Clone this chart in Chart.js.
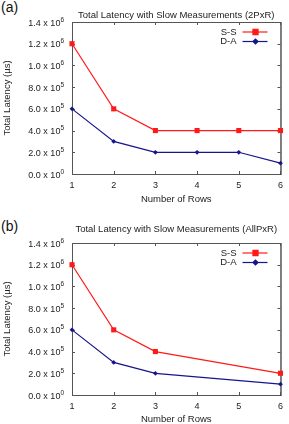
<!DOCTYPE html>
<html>
<head>
<meta charset="utf-8">
<script src="https://cdn.jsdelivr.net/npm/chart.js@4"></script>
<style>
  html, body { margin: 0; padding: 0; background: #fff; }
  body { width: 289px; height: 424px; position: relative; overflow: hidden; font-family: "Liberation Sans", Arial, sans-serif; }
  .panel { position: absolute; left: 0; width: 289px; }
  .tag { position: absolute; left: 1px; font-size: 14px; color: #111; }
</style>
</head>
<body>
<div class="tag" style="top:-1px">(a)</div>
<div class="tag" style="top:218px">(b)</div>
<div class="panel" style="top:0;height:212px"><canvas id="chartA" width="289" height="212"></canvas></div>
<div class="panel" style="top:212px;height:224px"><canvas id="chartB" width="289" height="224"></canvas></div>
<script>
// data
const rowsA = [1, 2, 3, 4, 5, 6];
const ssA = [1.2e6, 0.6e6, 0.4e6, 0.4e6, 0.4e6, 0.4e6];
const daA = [0.6e6, 0.3e6, 0.2e6, 0.2e6, 0.2e6, 0.1e6];

const rowsB = [1, 2, 3, 6];
const ssB = [1.2e6, 0.6e6, 0.4e6, 0.2e6];
const daB = [0.6e6, 0.3e6, 0.2e6, 0.1e6];

const xTicks = [1, 2, 3, 4, 5, 6];
const yTicks = [0, 2e5, 4e5, 6e5, 8e5, 1e6, 1.2e6, 1.4e6];
const seriesNames = ['S-S', 'D-A'];

const FONT = '"Liberation Sans", Arial, sans-serif';
const RED = '#ff1a1a';
const BLUE = '#16168c';
const FRAME = '#555';

function sci(v) {
  if (v === 0) return ['0.0', '0'];
  const e = Math.floor(Math.log10(v) + 1e-9);
  return [(v / Math.pow(10, e)).toFixed(1), String(e)];
}

// frame, inward ticks and y labels with superscript exponents
const framePlugin = {
  id: 'frame',
  beforeDatasetsDraw(chart) {
    const { ctx, chartArea: a, scales } = chart;
    ctx.save();
    ctx.lineWidth = 1;
    ctx.strokeStyle = FRAME;
    ctx.beginPath();
    ctx.moveTo(a.right + 0.5, a.top + 0.5);
    ctx.lineTo(a.left + 0.5, a.top + 0.5);
    ctx.lineTo(a.left + 0.5, a.bottom + 0.5);
    ctx.lineTo(a.right + 0.5, a.bottom + 0.5);
    ctx.stroke();
    ctx.strokeStyle = '#000';
    ctx.beginPath();
    ctx.moveTo(a.right + 0.5, a.top);
    ctx.lineTo(a.right + 0.5, a.bottom + 1);
    ctx.stroke();

    ctx.strokeStyle = FRAME;
    ctx.beginPath();
    xTicks.forEach(t => {
      const x = Math.round(scales.x.getPixelForValue(t)) + 0.5;
      ctx.moveTo(x, a.bottom); ctx.lineTo(x, a.bottom - 3);
      ctx.moveTo(x, a.top); ctx.lineTo(x, a.top + 3);
    });
    yTicks.forEach(t => {
      const y = Math.round(scales.y.getPixelForValue(t)) + 0.5;
      ctx.moveTo(a.left, y); ctx.lineTo(a.left + 3, y);
      ctx.moveTo(a.right, y); ctx.lineTo(a.right - 3, y);
    });
    ctx.stroke();

    ctx.fillStyle = '#222';
    ctx.textBaseline = 'alphabetic';
    yTicks.forEach(t => {
      const y = scales.y.getPixelForValue(t);
      const [m, e] = sci(t);
      const rightX = a.left - 8;
      ctx.font = '6.5px ' + FONT;
      const ew = ctx.measureText(e).width;
      ctx.textAlign = 'left';
      ctx.fillText(e, rightX - ew, y - 0.5);
      ctx.font = '9px ' + FONT;
      ctx.textAlign = 'right';
      ctx.fillText(m + ' x 10', rightX - ew, y + 3.5);
    });
    ctx.restore();
  },
  afterDraw(chart) {
    const { ctx, chartArea: a } = chart;
    const o = chart.options.plugins.frame;
    ctx.save();
    // title over the plot
    ctx.fillStyle = '#222';
    ctx.font = '9.5px ' + FONT;
    ctx.textAlign = 'center';
    ctx.textBaseline = 'middle';
    ctx.fillText(o.title, (a.left + a.right) / 2, a.top - o.titleGap);
    // legend, top right inside the plot
    ctx.font = '9.5px ' + FONT;
    chart.data.datasets.forEach((ds, i) => {
      const y = a.top + 10 + i * 9.5;
      ctx.fillStyle = '#222';
      ctx.textAlign = 'right';
      ctx.fillText(ds.label, a.right - 44, y);
      ctx.strokeStyle = ds.borderColor;
      ctx.lineWidth = 1.2;
      ctx.beginPath();
      ctx.moveTo(a.right - 38, y); ctx.lineTo(a.right - 13, y);
      ctx.stroke();
      Chart.helpers.drawPoint(ctx, {
        pointStyle: ds.pointStyle, radius: ds.pointRadius, borderWidth: 1
      }, a.right - 25, y);
      ctx.fillStyle = ds.borderColor;
      ctx.fill();
    });
    ctx.restore();
  }
};

function makeChart(id, H, rows, ss, da, title, plotTop, plotBottom, titleGap, xTitleY) {
  const ds = (label, vals, color, style, r) => ({
    label,
    data: rows.map((x, i) => ({ x, y: vals[i] })),
    borderColor: color,
    backgroundColor: color,
    borderWidth: 1.2,
    pointStyle: style,
    pointRadius: r,
    pointBorderWidth: 0,
    pointHoverRadius: r,
    clip: false,
    tension: 0
  });
  return new Chart(document.getElementById(id), {
    type: 'line',
    data: {
      datasets: [
        ds(seriesNames[0], ss, RED, 'rect', 3.6),
        ds(seriesNames[1], da, BLUE, 'rectRot', 2.4)
      ]
    },
    options: {
      responsive: false,
      animation: false,
      events: [],
      layout: { padding: { left: 0, right: 4, top: plotTop, bottom: 0 } },
      plugins: {
        legend: { display: false },
        tooltip: { enabled: false },
        title: { display: false },
        frame: { title, titleGap }
      },
      scales: {
        x: {
          type: 'linear', min: 1, max: 6,
          afterBuildTicks: s => { s.ticks = xTicks.map(v => ({ value: v })); },
          afterFit: s => { s.height = H - plotBottom; },
          grid: { display: false, drawTicks: false },
          border: { display: false },
          ticks: { color: '#222', font: { family: FONT, size: 9 }, padding: 6, maxRotation: 0 },
          title: {
            display: true, text: 'Number of Rows', color: '#222',
            font: { family: FONT, size: 9.5, lineHeight: 1 },
            padding: { top: 0, bottom: H - xTitleY - 4.75 }
          }
        },
        y: {
          min: 0, max: 1.4e6,
          afterFit: s => { s.width = 72; },
          grid: { display: false, drawTicks: false },
          border: { display: false },
          ticks: { display: false },
          title: { display: true, text: 'Total Latency (µs)', color: '#222', font: { family: FONT, size: 9.5 }, padding: { top: 2, bottom: 0 } }
        }
      }
    },
    plugins: [framePlugin]
  });
}

makeChart('chartA', 212, rowsA, ssA, daA, 'Total Latency with Slow Measurements (2PxR)', 22, 174, 7, 199);
makeChart('chartB', 224, rowsB, ssB, daB, 'Total Latency with Slow Measurements (AllPxR)', 31, 183, 14, 207);
</script>
</body>
</html>
